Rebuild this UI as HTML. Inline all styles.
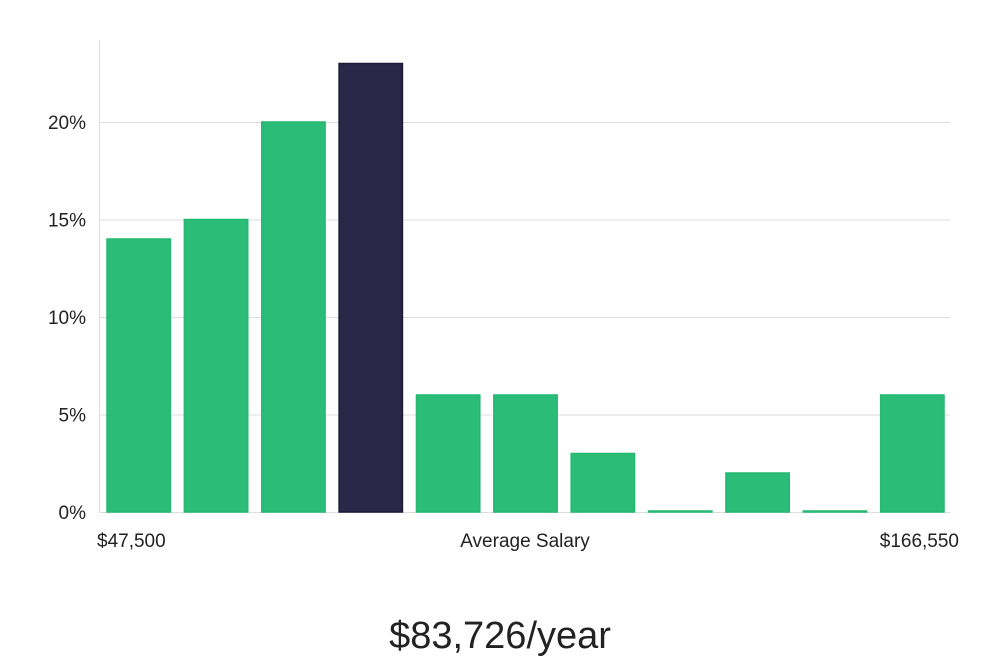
<!DOCTYPE html>
<html><head><meta charset="utf-8"><style>
body{margin:0;background:#fff;font-family:"Liberation Sans","DejaVu Sans",sans-serif}
</style></head><body>
<svg width="1000" height="660" xmlns="http://www.w3.org/2000/svg">
<g id="grid"></g><g id="bars"></g><g id="ylabels"></g>
<line x1="99.5" y1="40" x2="99.5" y2="512" stroke="#ddd"/>
<text x="97" y="547" font-size="19" fill="#222">$47,500</text>
<text x="525" y="547" font-size="19" fill="#222" text-anchor="middle">Average Salary</text>
<text x="959" y="547" font-size="19" fill="#222" text-anchor="end">$166,550</text>
<text x="500" y="648" font-size="38" fill="#222" text-anchor="middle">$83,726/year</text>
</svg>
<script>
const values=[14,15,20,23,6,6,3,0,2,0,6];
const highlight=[false,false,false,true,false,false,false,false,false,false,false];
const yTicks=[0,5,10,15,20];
const yTickLabels=["0%","5%","10%","15%","20%"];
const ns="http://www.w3.org/2000/svg";
const x0=99,x1=950,yBase=512,pxPer=19.5;
const y=v=>yBase-v*pxPer;
const band=(x1-x0)/values.length;
const grid=document.getElementById('grid'),bars=document.getElementById('bars'),yl=document.getElementById('ylabels');
yTicks.forEach((t,i)=>{
 const l=document.createElementNS(ns,'line');
 
 
 l.setAttribute('x1',x0);l.setAttribute('x2',x1);l.setAttribute('y1',y(t)+0.5);l.setAttribute('y2',y(t)+0.5);
 l.setAttribute('stroke','#ddd');grid.appendChild(l);
 const tx=document.createElementNS(ns,'text');
 
 
 tx.setAttribute('x',86);tx.setAttribute('y',y(t)+7);tx.setAttribute('text-anchor','end');
 tx.setAttribute('font-size','19');tx.setAttribute('fill','#222');tx.textContent=yTickLabels[i];yl.appendChild(tx);
});
values.forEach((v,i)=>{
 const r=document.createElementNS(ns,'rect');
 
 
 const h=Math.max(v*pxPer,1);
 r.setAttribute('x',x0+i*band+8);r.setAttribute('width',band-14);
 r.setAttribute('y',yBase-h);r.setAttribute('height',h);
 r.setAttribute('fill',highlight[i]?'#2a2748':'#2bbd77');
 r.setAttribute('stroke',highlight[i]?'#1d1a3a':'#25b870');r.setAttribute('stroke-width','1.5');
 bars.appendChild(r);
});
</script>
</body></html>
